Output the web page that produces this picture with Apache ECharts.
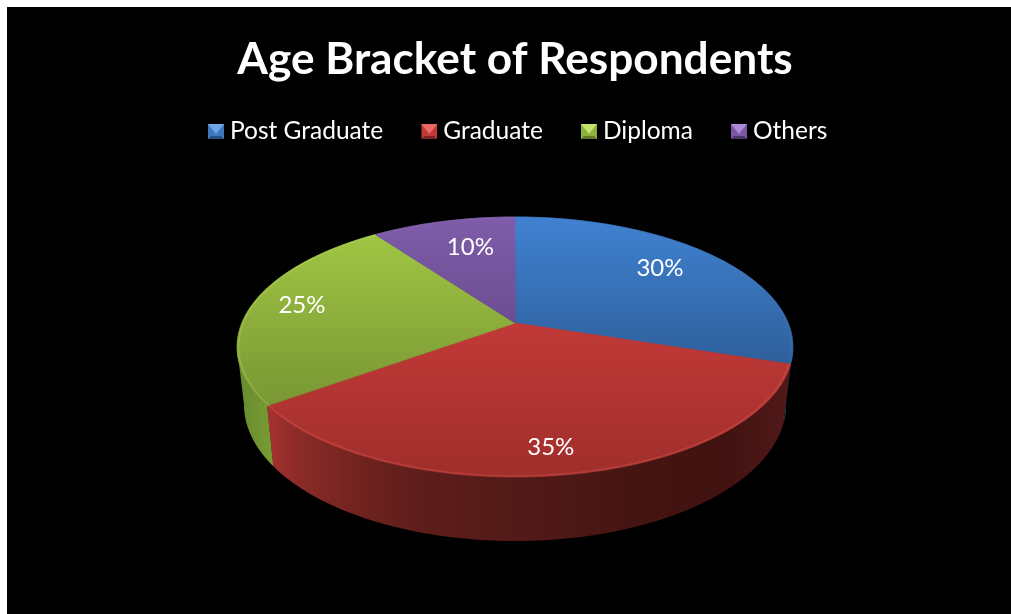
<!DOCTYPE html>
<html>
<head>
<meta charset="utf-8">
<title>Age Bracket of Respondents</title>
<script src="https://cdn.jsdelivr.net/npm/echarts@6/dist/echarts.min.js"></script>
<style>
  html, body { margin: 0; padding: 0; background: #fff; overflow: hidden; }
  #plate { position: absolute; left: 7px; top: 7px; width: 1004px; height: 607px; background: #000; }
  #chart { position: absolute; left: 0; top: 0; width: 1011px; height: 614px; }
</style>
</head>
<body>
<div id="plate"></div>
<div id="chart"></div>
<script>
// Chart content
const chartTitle = 'Age Bracket of Respondents';
const categories = ['Post Graduate', 'Graduate', 'Diploma', 'Others'];
const shares = [30, 35, 25, 10];

// Disc geometry: a circle seen in perspective, clockwise from twelve o'clock
const disc = { x: 515, y: 323, a: 273.2, b: 125.6, k: 0.1846 };
const base = { y: 379.3, sx: 0.975, sy: 1.05 };
const faceBand = [217, 477];
const frontArc = [100.6, 259.4];

// Where each percentage sits: fraction of the radius along the slice middle, plus a nudge
const labelPlacement = [
  { r: 0.706, dx: 0, dy: -6 },
  { r: 0.846, dx: -7, dy: 0 },
  { r: 0.808, dx: 0, dy: -2 },
  { r: 0.583, dx: 0, dy: -13 }
];

// Face and wall shading per slice
const faceStops = [
  ['#4082d2', '#204470'],
  ['#d84240', '#a02e2b'],
  ['#a4ca45', '#68832d'],
  ['#7f5da9', '#4f3470']
];
const wallStops = [
  [[0, '#2c5a90'], [1, '#234a78']],
  [[0, '#a83231'], [0.06, '#8b2b28'], [0.16, '#74241f'], [0.27, '#601e1b'], [0.48, '#521a17'], [0.72, '#441412'], [0.87, '#401210'], [1, '#52191a']],
  [[0, '#668a2e'], [1, '#7a9c34']],
  [[0, '#5f4285'], [1, '#5f4285']]
];
const rimColors = ['rgba(70,125,195,0.2)', 'rgba(235,105,100,0.25)', 'rgba(185,220,95,0.3)', 'rgba(150,115,195,0.2)'];
const bevelColors = [
  ['#6ea6e6', '#3f78bd', '#25507f'],
  ['#ea6a66', '#c23a37', '#7e2523'],
  ['#c4e46c', '#8fb23d', '#5f7a2a'],
  ['#ab8bd8', '#7a58a4', '#4b3468']
];

const total = shares.reduce((s, v) => s + v, 0);
const rad = (d) => d * Math.PI / 180;

function projectTop(deg, r) {
  const u = r * Math.sin(rad(deg));
  const v = r * Math.cos(rad(deg));
  const w = 1 + disc.k * v;
  return [disc.x + disc.a * u / w, disc.y - disc.b * v / w];
}

function projectBase(deg) {
  const u = Math.sin(rad(deg));
  const v = Math.cos(rad(deg));
  const w = 1 + disc.k * v;
  return [disc.x + base.sx * disc.a * u / w, base.y - base.sy * disc.b * v / w];
}

function arc(fn, from, to) {
  const pts = [];
  const steps = Math.max(1, Math.ceil(Math.abs(to - from)));
  for (let i = 0; i <= steps; i++) pts.push(fn(from + (to - from) * i / steps));
  return pts;
}

function sliceSpan(index, value) {
  let before = 0;
  for (let i = 0; i < index; i++) before += shares[i];
  return [before / total * 360, (before + value) / total * 360];
}

function bevelIcon(c) {
  const svg = '<svg xmlns="http://www.w3.org/2000/svg" width="16" height="15" viewBox="0 0 16 15">' +
    '<rect width="16" height="15" fill="' + c[1] + '"/>' +
    '<polygon points="0,15 16,15 13,12 3,12" fill="' + c[2] + '"/>' +
    '<polygon points="0,0 16,0 8,10" fill="' + c[0] + '"/>' +
    '</svg>';
  return 'image://data:image/svg+xml;charset=utf-8,' + encodeURIComponent(svg);
}

function renderSlice(index) {
  return function (params, api) {
    const value = api.value(0);
    const [start, end] = sliceSpan(index, value);
    const children = [];

    // Outer wall, only the stretch that faces the viewer
    const wallFrom = Math.max(start, frontArc[0]);
    const wallTo = Math.min(end, frontArc[1]);
    if (wallTo > wallFrom) {
      const upper = arc((d) => projectTop(d, 1), wallFrom, wallTo);
      const lower = arc(projectBase, wallTo, wallFrom);
      const xs = upper.concat(lower).map((p) => p[0]);
      const left = Math.min.apply(null, xs);
      const right = Math.max.apply(null, xs);
      children.push({
        type: 'polygon',
        shape: { points: upper.concat(lower) },
        style: {
          fill: new echarts.graphic.LinearGradient(left, 0, right, 0,
            wallStops[index].map((s) => ({ offset: s[0], color: s[1] })), true)
        }
      });
    }

    // Top face; the matching stroke closes the hairlines between neighbouring slices
    const face = [[disc.x, disc.y]].concat(arc((d) => projectTop(d, 1), start, end));
    const faceFill = new echarts.graphic.LinearGradient(0, faceBand[0], 0, faceBand[1], [
      { offset: 0, color: faceStops[index][0] },
      { offset: 1, color: faceStops[index][1] }
    ], true);
    children.push({
      type: 'polygon',
      shape: { points: face },
      style: { fill: faceFill, stroke: faceFill, lineWidth: 0.8 }
    });

    // Soft highlight along the outer edge of the face
    children.push({
      type: 'polyline',
      shape: { points: arc((d) => projectTop(d, 0.995), start, end) },
      style: { fill: 'none', stroke: rimColors[index], lineWidth: 2 }
    });

    // Percentage label
    const place = labelPlacement[index];
    const at = projectTop((start + end) / 2, place.r);
    children.push({
      type: 'text',
      style: {
        text: Math.round(value / total * 100) + '%',
        x: at[0] + place.dx,
        y: at[1] + place.dy,
        fill: '#fff',
        font: '24px Lato',
        align: 'center',
        verticalAlign: 'middle'
      }
    });

    return { type: 'group', children };
  };
}

const chart = echarts.init(document.getElementById('chart'), null, { renderer: 'canvas' });
chart.setOption({
  animation: false,
  backgroundColor: 'transparent',
  title: {
    text: chartTitle,
    left: 510,
    top: 33,
    textAlign: 'center',
    textStyle: { color: '#fff', fontFamily: 'Lato', fontWeight: 'bold', fontSize: 44.2 }
  },
  legend: {
    left: 203,
    top: 114,
    itemWidth: 16,
    itemHeight: 15,
    itemGap: 38,
    selectedMode: false,
    textStyle: { color: '#fff', fontFamily: 'Lato', fontSize: 24.5, padding: [0, 0, 0, 1] },
    data: categories.map((name, i) => ({ name, icon: bevelIcon(bevelColors[i]) }))
  },
  series: categories.map((name, i) => ({
    type: 'custom',
    name,
    coordinateSystem: 'none',
    silent: true,
    itemStyle: { color: bevelColors[i][1] },
    data: [[shares[i]]],
    renderItem: renderSlice(i)
  }))
});
</script>
</body>
</html>
